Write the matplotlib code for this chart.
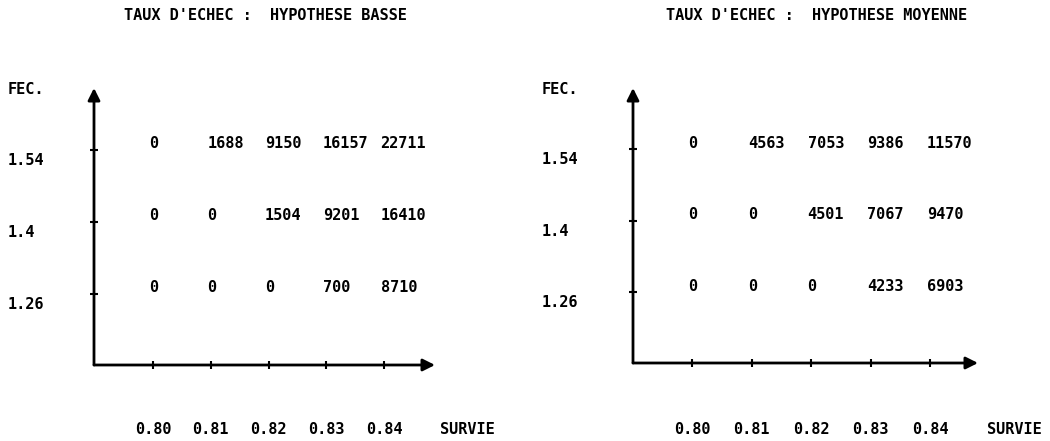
import matplotlib
matplotlib.use('Agg')
import matplotlib.pyplot as plt
import matplotlib.transforms as mtransforms

# Survival rates (x) and fecundity levels (y)
survie = [0.80, 0.81, 0.82, 0.83, 0.84]
survie_labels = ['0.80', '0.81', '0.82', '0.83', '0.84']
fec = [1.54, 1.4, 1.26]
fec_labels = ['1.54', '1.4', '1.26']

# Values per fecundity row, for each hypothesis
basse = [
    [0, 1688, 9150, 16157, 22711],
    [0, 0, 1504, 9201, 16410],
    [0, 0, 0, 700, 8710],
]
moyenne = [
    [0, 4563, 7053, 9386, 11570],
    [0, 0, 4501, 7067, 9470],
    [0, 0, 0, 4233, 6903],
]
titles = ["TAUX D'ECHEC :  HYPOTHESE BASSE", "TAUX D'ECHEC :  HYPOTHESE MOYENNE"]

W, H = 1050, 441
FONT = dict(family='DejaVu Sans Mono', fontweight='bold', fontsize=11)

fig = plt.figure(figsize=(W / 100, H / 100), dpi=100)
fig.patch.set_facecolor('white')


def px_rect(x0, x1, ytop, ybot):
    return [x0 / W, 1 - ybot / H, (x1 - x0) / W, (ybot - ytop) / H]


# panel layout in pixels: axis origin / arrow tips, label column
panels = [
    dict(data=basse, title=titles[0], box=(94, 435, 88, 365), xlim=(0.7898, 0.8488),
         label_x=8, title_x=265, survie_x=440),
    dict(data=moyenne, title=titles[1], box=(633, 978, 88, 363), xlim=(0.7901, 0.8480),
         label_x=542, title_x=817, survie_x=987),
]
ylim = (1.122, 1.66)

for p in panels:
    ax = fig.add_axes(px_rect(*p['box']))
    ax.set_xlim(*p['xlim'])
    ax.set_ylim(*ylim)
    ax.axis('off')
    x0, x1 = p['xlim']
    y0, y1 = ylim

    # axes with arrows
    arrow = dict(arrowstyle='-|>', lw=2.0, color='black', mutation_scale=18,
                 shrinkA=0, shrinkB=0)
    ax.annotate('', xy=(x1, y0), xytext=(x0, y0), arrowprops=arrow, annotation_clip=False)
    ax.annotate('', xy=(x0, y1), xytext=(x0, y0), arrowprops=arrow, annotation_clip=False)

    # tick marks
    ax.plot(survie, [y0] * len(survie), linestyle='none', marker='|', markersize=6,
            mew=1.5, color='black', clip_on=False)
    ax.plot([x0] * len(fec), fec, linestyle='none', marker='_', markersize=6,
            mew=1.5, color='black', clip_on=False)

    # cell values
    for row, yv in zip(p['data'], fec):
        for xv, v in zip(survie, row):
            ax.annotate(str(v), xy=(xv, yv), xytext=(-2.6, 4.5), textcoords='offset points',
                        ha='left', va='center', **FONT)

    # y tick labels (left column)
    blend_y = mtransforms.blended_transform_factory(fig.transFigure, ax.transData)
    off_y = mtransforms.offset_copy(blend_y, fig=fig, x=0, y=-7.5, units='points')
    for yv, lab in zip(fec, fec_labels):
        ax.text(p['label_x'] / W, yv, lab, transform=off_y, ha='left', va='center', **FONT)
    fig.text(p['label_x'] / W, 1 - 90 / H, 'FEC.', ha='left', va='center', **FONT)

    # x tick labels (bottom row)
    blend_x = mtransforms.blended_transform_factory(ax.transData, fig.transFigure)
    for xv, lab in zip(survie, survie_labels):
        ax.text(xv, 1 - 430 / H, lab, transform=blend_x, ha='center', va='center', **FONT)
    fig.text(p['survie_x'] / W, 1 - 430 / H, 'SURVIE', ha='left', va='center', **FONT)

    fig.text(p['title_x'] / W, 1 - 16 / H, p['title'], ha='center', va='center', **FONT)

fig.savefig('out.png', dpi=100, facecolor='white')
